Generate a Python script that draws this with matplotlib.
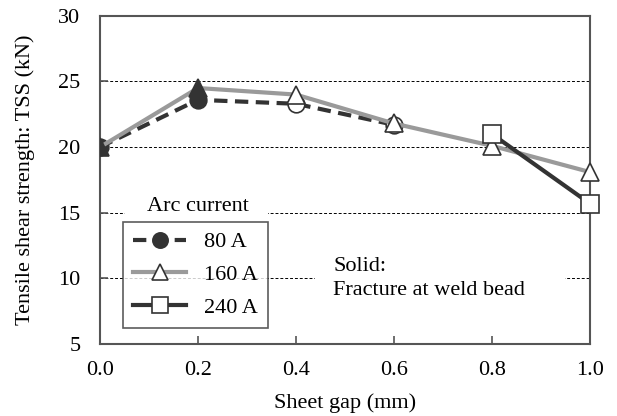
import matplotlib
matplotlib.use("Agg")
import matplotlib.pyplot as plt
from matplotlib.lines import Line2D
from matplotlib.patches import Rectangle

plt.rcParams['font.family'] = ['Liberation Serif', 'DejaVu Serif']
plt.rcParams['font.size'] = 16

# Data
a80_x = [0.0, 0.2, 0.4, 0.6]
a80_y = [20.0, 23.6, 23.3, 21.7]
a80_solid = [True, True, False, False]
a160_x = [0.0, 0.2, 0.4, 0.6, 0.8, 1.0]
a160_y = [20.0, 24.5, 24.0, 21.8, 20.1, 18.1]
a160_solid = [True, True, False, False, False, False]
a240_x = [0.8, 1.0]
a240_y = [21.0, 15.7]
a240_solid = [False, False]
yticks = [5, 10, 15, 20, 25, 30]
xticks = [0.0, 0.2, 0.4, 0.6, 0.8, 1.0]

dark = '#333333'
gray = '#9a9a9a'

fig = plt.figure(figsize=(6.17, 4.16), dpi=100)
ax = fig.add_axes([0.162, 0.173, 0.794, 0.789])

series = [
    (a80_x, a80_y, a80_solid, dark, 'o', '80 A', (0, (3.2, 1.8)), 12),
    (a160_x, a160_y, a160_solid, gray, '^', '160 A', '-', 13),
    (a240_x, a240_y, a240_solid, dark, 's', '240 A', '-', 13),
]
handles = []
for i, (xs, ys, solid, col, mk, lab, ls, ms) in enumerate(series):
    ax.plot(xs, ys, color=col, lw=3, linestyle=ls, zorder=3 + i, solid_capstyle='butt')
    for x, y, s in zip(xs, ys, solid):
        ax.plot([x], [y], linestyle='none', marker=mk, markersize=ms,
                markerfacecolor=dark if s else 'white',
                markeredgecolor=dark, markeredgewidth=1.2, zorder=3.5 + i,
                clip_on=(x == 0.0))
    filled = (lab == '80 A')
    handles.append(Line2D([], [], color=col, lw=3, linestyle=ls, marker=mk, markersize=ms - 1,
                          markerfacecolor=dark if filled else 'white', markeredgecolor=dark,
                          markeredgewidth=1.2, label=lab))

ax.set_xlim(0.0, 1.0)
ax.set_ylim(5, 30)
ax.set_xticks(xticks)
ax.set_xticklabels([f'{t:.1f}' for t in xticks])
ax.set_yticks(yticks)
ax.tick_params(direction='in', length=6, width=1.2, color='#555555', labelsize=16)
ax.tick_params(axis='x', pad=12)
ax.tick_params(axis='y', pad=14)
for sp in ax.spines.values():
    sp.set_color('#555555')
    sp.set_linewidth(1.5)
    sp.set_zorder(2.5)

ax.yaxis.grid(True, color='black', linestyle=(0, (3, 2)), lw=0.7)
ax.set_axisbelow(True)
ax.set_ylabel('Tensile shear strength: TSS (kN)', fontsize=16, labelpad=17)
ax.set_xlabel('Sheet gap (mm)', fontsize=16, labelpad=10)

leg = ax.legend(handles=handles, loc='lower left', bbox_to_anchor=(0.047, 0.049),
                frameon=True, fancybox=False, fontsize=16, handlelength=2.4,
                borderpad=0.45, labelspacing=0.55, handletextpad=0.8, borderaxespad=0)
leg.get_frame().set_edgecolor('#333333')
leg.get_frame().set_linewidth(1.2)
leg.set_zorder(10)

# white backgrounds breaking the grid lines
ax.add_patch(Rectangle((0.051, 14.3), 0.292, 2.8, facecolor='white', edgecolor='none', zorder=1.5))
ax.add_patch(Rectangle((0.439, 8.6), 0.51, 3.0, facecolor='white', edgecolor='none', zorder=1.5))

ax.text(0.2, 15.5, 'Arc current', ha='center', va='center', fontsize=16, zorder=10)
ax.text(0.476, 10.0, 'Solid:\nFracture at weld bead', ha='left', va='center', fontsize=16,
        zorder=10, linespacing=1.4)

fig.savefig('out.png', dpi=100)
